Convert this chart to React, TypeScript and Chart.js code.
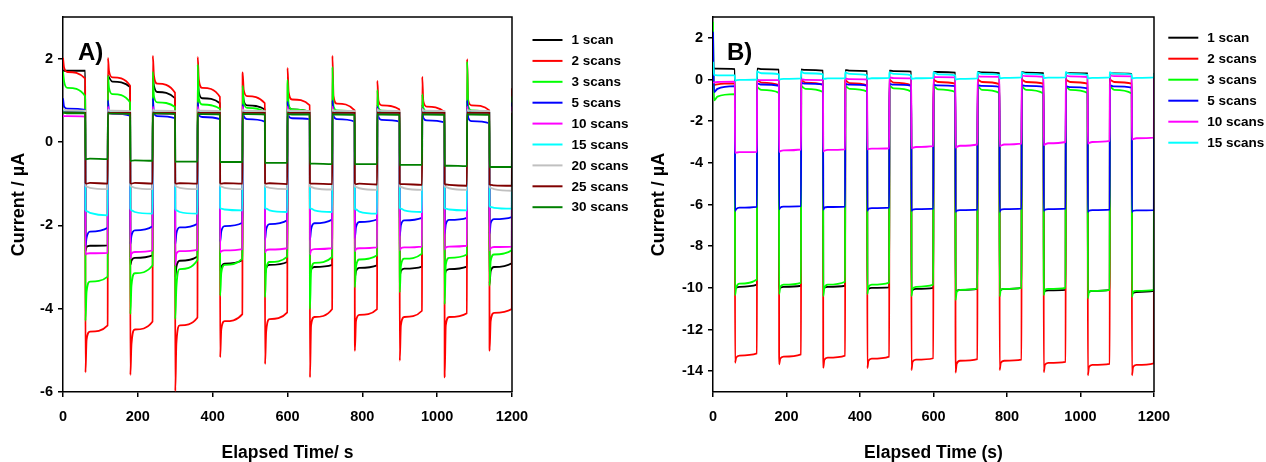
import React, { useEffect, useRef } from "react";
import { Chart, registerables } from "chart.js";

Chart.register(...registerables);

const FONT = '"Liberation Sans", Arial, sans-serif';

// ---- shared axis / sampling data ----
const X_TICKS = [0, 200, 400, 600, 800, 1000, 1200];
const A_Y_TICKS = [-6, -4, -2, 0, 2];
const B_Y_TICKS = [-14, -12, -10, -8, -6, -4, -2, 0, 2];
const SEG_OFFSETS = [0, 3, 12, 59.5]; // seconds into each 60 s light-on / light-off half period
const HALF_PERIOD = 60;
const T_END = 1200;

const COLORS = ["#000000", "#ff0000", "#00ff00", "#0000ff", "#ff00ff", "#00ffff", "#c0c0c0", "#800000", "#008000"];

// ---- Panel A ----
const A_LABELS = ["1 scan", "2 scans", "3 scans", "5 scans", "10 scans", "15 scans", "20 scans", "25 scans", "30 scans"];

const A_1SCAN = [
  [1.71, 1.71, 1.71, 1.71], [-2.62, -2.52, -2.49, -2.48],
  [1.6, 1.55, 1.45, 1.32], [-2.95, -2.85, -2.78, -2.72],
  [1.55, 1.35, 1.2, 1.05], [-3.25, -3.0, -2.85, -2.75],
  [1.45, 1.2, 1.05, 0.93], [-3.1, -3.0, -2.92, -2.84],
  [1.2, 1.0, 0.88, 0.78], [-3.16, -3.02, -2.95, -2.88],
  [1.0, 0.85, 0.78, 0.72], [-3.16, -3.06, -3.0, -2.95],
  [0.95, 0.8, 0.74, 0.7], [-3.25, -3.1, -3.02, -2.96],
  [0.9, 0.78, 0.72, 0.7], [-3.2, -3.1, -3.04, -2.99],
  [0.9, 0.78, 0.72, 0.68], [-3.2, -3.1, -3.05, -2.99],
  [0.9, 0.78, 0.72, 0.68], [-3.4, -3.1, -3.0, -2.91],
];
const A_2SCANS = [
  [2.02, 1.78, 1.68, 1.52], [-5.53, -4.75, -4.55, -4.4],
  [2.02, 1.7, 1.55, 1.35], [-5.59, -4.85, -4.5, -4.31],
  [2.07, 1.6, 1.4, 1.18], [-5.98, -4.84, -4.4, -4.21],
  [2.04, 1.5, 1.3, 1.08], [-5.17, -4.5, -4.3, -4.13],
  [1.67, 1.25, 1.1, 0.93], [-5.33, -4.55, -4.25, -4.09],
  [1.78, 1.2, 1.02, 0.88], [-5.65, -4.4, -4.2, -4.01],
  [2.07, 1.1, 0.92, 0.76], [-5.01, -4.3, -4.15, -4.01],
  [1.47, 1.0, 0.88, 0.78], [-5.25, -4.4, -4.2, -4.05],
  [1.57, 0.98, 0.85, 0.72], [-5.65, -4.4, -4.2, -4.11],
  [1.99, 1.0, 0.88, 0.76], [-5.01, -4.3, -4.1, -4.01],
];
const A_3SCANS = [
  [1.69, 1.45, 1.3, 1.1], [-4.29, -3.6, -3.35, -3.23],
  [1.59, 1.3, 1.15, 0.95], [-4.13, -3.45, -3.15, -2.96],
  [1.69, 1.1, 0.95, 0.84], [-4.25, -3.5, -3.05, -2.83],
  [1.86, 1.05, 0.9, 0.8], [-3.69, -3.15, -2.95, -2.8],
  [1.35, 0.95, 0.82, 0.72], [-3.73, -3.05, -2.88, -2.75],
  [1.49, 0.9, 0.78, 0.72], [-4.01, -3.1, -2.9, -2.76],
  [1.8, 0.85, 0.76, 0.72], [-3.49, -3.0, -2.82, -2.72],
  [1.25, 0.82, 0.75, 0.7], [-3.61, -2.98, -2.8, -2.68],
  [1.15, 0.82, 0.74, 0.7], [-3.89, -2.95, -2.78, -2.7],
  [1.93, 0.85, 0.76, 0.7], [-3.45, -2.86, -2.7, -2.6],
];
const A_5SCANS = [
  [1.05, 0.85, 0.8, 0.77], [-2.5, -2.3, -2.15, -2.06],
  [1.0, 0.72, 0.68, 0.63], [-2.45, -2.25, -2.12, -2.02],
  [1.05, 0.7, 0.62, 0.57], [-2.45, -2.2, -2.05, -1.96],
  [0.95, 0.65, 0.6, 0.55], [-2.4, -2.15, -2.02, -1.94],
  [0.9, 0.62, 0.55, 0.49], [-2.35, -2.1, -1.97, -1.88],
  [0.97, 0.62, 0.57, 0.55], [-2.35, -2.1, -1.95, -1.86],
  [1.0, 0.62, 0.55, 0.49], [-2.3, -2.05, -1.92, -1.86],
  [0.85, 0.6, 0.53, 0.49], [-2.25, -2.0, -1.88, -1.82],
  [0.81, 0.58, 0.52, 0.47], [-2.2, -1.98, -1.87, -1.82],
  [1.0, 0.58, 0.5, 0.45], [-2.2, -1.95, -1.85, -1.8],
];
const A_10SCANS = [
  [0.62, 0.62, 0.62, 0.61], [-2.7, -2.68, -2.67, -2.66],
  [0.85, 0.7, 0.68, 0.67], [-2.8, -2.68, -2.64, -2.6],
  [0.85, 0.7, 0.68, 0.67], [-2.96, -2.68, -2.62, -2.59],
  [0.85, 0.7, 0.68, 0.67], [-2.65, -2.62, -2.6, -2.57],
  [0.85, 0.7, 0.68, 0.67], [-2.65, -2.6, -2.58, -2.55],
  [0.85, 0.7, 0.68, 0.67], [-2.7, -2.6, -2.57, -2.55],
  [0.85, 0.7, 0.68, 0.67], [-2.62, -2.57, -2.55, -2.53],
  [0.8, 0.7, 0.68, 0.67], [-2.6, -2.55, -2.53, -2.51],
  [0.8, 0.7, 0.68, 0.67], [-2.58, -2.53, -2.51, -2.49],
  [0.85, 0.7, 0.68, 0.67], [-2.6, -2.55, -2.52, -2.51],
];
const A_15SCANS = [
  [0.74, 0.73, 0.72, 0.72], [-1.62, -1.66, -1.7, -1.76],
  [0.74, 0.72, 0.71, 0.7], [-1.6, -1.64, -1.68, -1.72],
  [0.74, 0.72, 0.71, 0.7], [-1.6, -1.64, -1.68, -1.72],
  [0.74, 0.72, 0.71, 0.7], [-1.58, -1.6, -1.62, -1.64],
  [0.74, 0.72, 0.71, 0.7], [-1.58, -1.6, -1.64, -1.68],
  [0.74, 0.72, 0.71, 0.7], [-1.58, -1.6, -1.64, -1.68],
  [0.74, 0.72, 0.71, 0.7], [-1.6, -1.62, -1.67, -1.72],
  [0.74, 0.72, 0.71, 0.7], [-1.58, -1.6, -1.64, -1.68],
  [0.74, 0.72, 0.71, 0.7], [-1.58, -1.6, -1.62, -1.64],
  [0.74, 0.72, 0.71, 0.7], [-1.54, -1.56, -1.58, -1.6],
];
const A_20SCANS = [
  [0.8, 0.78, 0.76, 0.75], [-1.05, -1.07, -1.1, -1.13],
  [0.78, 0.76, 0.75, 0.74], [-1.05, -1.07, -1.1, -1.13],
  [0.78, 0.76, 0.75, 0.74], [-1.05, -1.07, -1.1, -1.13],
  [0.78, 0.76, 0.75, 0.74], [-1.05, -1.07, -1.1, -1.13],
  [0.78, 0.76, 0.75, 0.74], [-1.05, -1.08, -1.1, -1.13],
  [0.78, 0.76, 0.75, 0.74], [-1.06, -1.08, -1.11, -1.14],
  [0.78, 0.76, 0.75, 0.74], [-1.06, -1.08, -1.11, -1.15],
  [0.78, 0.76, 0.75, 0.74], [-1.06, -1.08, -1.11, -1.15],
  [0.78, 0.76, 0.75, 0.74], [-1.06, -1.08, -1.11, -1.15],
  [0.78, 0.76, 0.75, 0.74], [-1.08, -1.1, -1.13, -1.17],
];
const A_25SCANS = [
  [0.72, 0.71, 0.71, 0.7], [-0.98, -1.0, -0.98, -1.0],
  [0.71, 0.7, 0.7, 0.7], [-0.98, -1.0, -0.98, -1.0],
  [0.71, 0.7, 0.7, 0.7], [-0.98, -1.0, -0.99, -1.0],
  [0.71, 0.7, 0.7, 0.7], [-0.98, -1.0, -0.99, -1.0],
  [0.71, 0.7, 0.7, 0.7], [-0.99, -1.0, -0.99, -1.01],
  [0.71, 0.7, 0.7, 0.7], [-0.99, -1.0, -1.0, -1.01],
  [0.71, 0.7, 0.7, 0.7], [-0.99, -1.01, -1.0, -1.02],
  [0.71, 0.7, 0.7, 0.7], [-1.0, -1.01, -1.01, -1.03],
  [0.71, 0.7, 0.7, 0.7], [-1.0, -1.02, -1.03, -1.05],
  [0.71, 0.7, 0.7, 0.7], [-1.02, -1.03, -1.04, -1.05],
];
const A_30SCANS = [
  [0.7, 0.7, 0.69, 0.69], [-0.42, -0.41, -0.4, -0.41],
  [0.69, 0.68, 0.68, 0.67], [-0.46, -0.45, -0.44, -0.45],
  [0.69, 0.68, 0.68, 0.67], [-0.48, -0.47, -0.47, -0.47],
  [0.68, 0.67, 0.67, 0.66], [-0.49, -0.48, -0.48, -0.48],
  [0.68, 0.67, 0.67, 0.66], [-0.51, -0.5, -0.5, -0.5],
  [0.68, 0.67, 0.66, 0.66], [-0.53, -0.52, -0.52, -0.53],
  [0.67, 0.66, 0.66, 0.65], [-0.54, -0.53, -0.53, -0.53],
  [0.67, 0.66, 0.66, 0.65], [-0.56, -0.55, -0.55, -0.55],
  [0.67, 0.66, 0.66, 0.65], [-0.58, -0.57, -0.57, -0.58],
  [0.67, 0.66, 0.66, 0.65], [-0.6, -0.6, -0.6, -0.6],
];
const A_SERIES = [A_1SCAN, A_2SCANS, A_3SCANS, A_5SCANS, A_10SCANS, A_15SCANS, A_20SCANS, A_25SCANS, A_30SCANS];
const A_END_VALUES = [0.7, 1.29, 1.09, 0.95, 0.85, 0.72, 0.74, 0.7, 0.66];

// ---- Panel B ----
const B_LABELS = ["1 scan", "2 scans", "3 scans", "5 scans", "10 scans", "15 scans"];

const B_1SCAN = [
  [0.53, 0.53, 0.52, 0.5], [-10.05, -10.0, -9.95, -9.85],
  [0.52, 0.52, 0.5, 0.47], [-10.05, -10.0, -9.95, -9.9],
  [0.48, 0.47, 0.46, 0.43], [-10.1, -10.0, -9.95, -9.9],
  [0.45, 0.45, 0.43, 0.4], [-10.1, -10.05, -10.0, -9.98],
  [0.42, 0.42, 0.4, 0.38], [-10.15, -10.1, -10.05, -10.0],
  [0.37, 0.37, 0.36, 0.33], [-10.2, -10.15, -10.1, -10.05],
  [0.37, 0.36, 0.34, 0.3], [-10.15, -10.1, -10.05, -10.0],
  [0.36, 0.35, 0.33, 0.3], [-10.2, -10.15, -10.12, -10.1],
  [0.33, 0.32, 0.31, 0.29], [-10.25, -10.2, -10.15, -10.1],
  [0.31, 0.3, 0.29, 0.27], [-10.3, -10.25, -10.2, -10.15],
];
const B_2SCANS = [
  [-0.3, -0.27, -0.23, -0.19], [-13.6, -13.35, -13.25, -13.15],
  [0.0, -0.05, -0.15, -0.27], [-13.67, -13.4, -13.3, -13.19],
  [0.0, -0.05, -0.15, -0.25], [-13.84, -13.45, -13.35, -13.25],
  [-0.02, -0.07, -0.17, -0.28], [-13.85, -13.5, -13.4, -13.3],
  [0.0, -0.05, -0.15, -0.28], [-13.95, -13.55, -13.45, -13.38],
  [0.0, -0.04, -0.12, -0.2], [-14.07, -13.65, -13.5, -13.42],
  [0.02, -0.03, -0.12, -0.22], [-13.95, -13.6, -13.5, -13.45],
  [0.02, -0.03, -0.12, -0.2], [-14.05, -13.7, -13.6, -13.55],
  [0.0, -0.04, -0.12, -0.2], [-14.2, -13.8, -13.7, -13.65],
  [0.0, -0.04, -0.12, -0.2], [-14.2, -13.8, -13.7, -13.62],
];
const B_3SCANS = [
  [2.77, -1.0, -0.82, -0.7], [-10.35, -10.0, -9.8, -9.6],
  [-0.35, -0.4, -0.5, -0.64], [-10.3, -9.95, -9.85, -9.76],
  [-0.3, -0.35, -0.45, -0.6], [-10.4, -10.0, -9.85, -9.71],
  [-0.3, -0.35, -0.45, -0.58], [-10.3, -9.95, -9.85, -9.75],
  [-0.28, -0.33, -0.43, -0.58], [-10.4, -10.05, -9.95, -9.85],
  [-0.3, -0.35, -0.47, -0.6], [-10.59, -10.2, -10.1, -10.03],
  [-0.3, -0.36, -0.5, -0.65], [-10.4, -10.1, -10.05, -10.0],
  [-0.3, -0.37, -0.5, -0.67], [-10.35, -10.1, -10.05, -10.0],
  [-0.3, -0.37, -0.5, -0.65], [-10.5, -10.2, -10.15, -10.1],
  [-0.3, -0.37, -0.5, -0.67], [-10.45, -10.2, -10.15, -10.1],
];
const B_5SCANS = [
  [2.29, -0.6, -0.45, -0.32], [-6.31, -6.22, -6.15, -6.11],
  [-0.19, -0.2, -0.24, -0.31], [-6.23, -6.15, -6.1, -6.08],
  [-0.15, -0.17, -0.2, -0.25], [-6.25, -6.15, -6.12, -6.1],
  [-0.2, -0.22, -0.25, -0.3], [-6.3, -6.2, -6.17, -6.15],
  [-0.2, -0.22, -0.25, -0.3], [-6.3, -6.25, -6.22, -6.2],
  [-0.25, -0.26, -0.28, -0.32], [-6.35, -6.3, -6.27, -6.25],
  [-0.27, -0.28, -0.31, -0.35], [-6.35, -6.25, -6.22, -6.2],
  [-0.27, -0.28, -0.31, -0.35], [-6.3, -6.25, -6.22, -6.2],
  [-0.32, -0.33, -0.37, -0.43], [-6.35, -6.3, -6.27, -6.25],
  [-0.27, -0.29, -0.33, -0.39], [-6.36, -6.3, -6.28, -6.27],
];
const B_10SCANS = [
  [-0.15, -0.14, -0.12, -0.1], [-3.52, -3.51, -3.49, -3.47],
  [-0.03, -0.03, -0.03, -0.03], [-3.47, -3.44, -3.4, -3.36],
  [0.0, 0.0, -0.02, -0.03], [-3.45, -3.42, -3.38, -3.35],
  [0.05, 0.04, 0.02, 0.0], [-3.35, -3.34, -3.32, -3.3],
  [0.1, 0.09, 0.07, 0.05], [-3.3, -3.28, -3.24, -3.2],
  [0.13, 0.12, 0.11, 0.1], [-3.27, -3.24, -3.18, -3.12],
  [0.16, 0.15, 0.14, 0.13], [-3.2, -3.18, -3.12, -3.08],
  [0.2, 0.18, 0.16, 0.13], [-3.15, -3.12, -3.06, -3.0],
  [0.2, 0.18, 0.15, 0.12], [-3.08, -3.05, -3.0, -2.95],
  [0.2, 0.18, 0.16, 0.15], [-2.88, -2.86, -2.82, -2.79],
];
const B_15SCANS = [
  [0.85, 0.22, 0.2, 0.2], [-0.05, -0.04, -0.02, 0.0],
  [0.4, 0.36, 0.3, 0.25], [0.0, 0.01, 0.03, 0.05],
  [0.4, 0.35, 0.3, 0.25], [0.02, 0.03, 0.05, 0.07],
  [0.35, 0.32, 0.27, 0.2], [0.03, 0.04, 0.06, 0.08],
  [0.35, 0.32, 0.27, 0.2], [0.03, 0.04, 0.06, 0.08],
  [0.35, 0.32, 0.25, 0.2], [0.0, 0.01, 0.03, 0.05],
  [0.35, 0.32, 0.27, 0.22], [0.05, 0.06, 0.08, 0.1],
  [0.35, 0.32, 0.27, 0.22], [0.06, 0.07, 0.09, 0.1],
  [0.35, 0.32, 0.27, 0.22], [0.05, 0.06, 0.08, 0.1],
  [0.35, 0.32, 0.28, 0.25], [0.05, 0.06, 0.08, 0.1],
];
const B_SERIES = [B_1SCAN, B_2SCANS, B_3SCANS, B_5SCANS, B_10SCANS, B_15SCANS];
const B_END_VALUES = [0.3, 0.0, -0.3, -0.25, 0.2, 0.3];

// ---- helpers ----
function toPoints(segments: number[][], endValue: number) {
  const pts: { x: number; y: number }[] = [];
  segments.forEach((seg, i) => {
    seg.forEach((v, j) => pts.push({ x: i * HALF_PERIOD + SEG_OFFSETS[j], y: v }));
  });
  pts.push({ x: T_END, y: endValue });
  return pts;
}

const decorPlugin = {
  id: "decor",
  afterDraw(chart: any, _args: any, opts: any) {
    const { ctx, chartArea } = chart;
    ctx.save();
    ctx.strokeStyle = "#000";
    ctx.lineWidth = 1.5;
    ctx.beginPath();
    ctx.moveTo(chartArea.left, chartArea.top);
    ctx.lineTo(chartArea.right, chartArea.top);
    ctx.lineTo(chartArea.right, chartArea.bottom);
    ctx.stroke();

    ctx.fillStyle = "#000";
    ctx.font = `bold 24px ${FONT}`;
    ctx.textBaseline = "alphabetic";
    ctx.textAlign = "left";
    ctx.fillText(opts.panel, opts.panelX, opts.panelY);

    ctx.font = `bold 13.5px ${FONT}`;
    ctx.textBaseline = "middle";
    chart.data.datasets.forEach((ds: any, i: number) => {
      const y = opts.legendY + i * opts.legendDy;
      ctx.strokeStyle = ds.borderColor;
      ctx.lineWidth = 2;
      ctx.beginPath();
      ctx.moveTo(opts.legendX, y);
      ctx.lineTo(opts.legendX + 30, y);
      ctx.stroke();
      ctx.fillStyle = "#000";
      ctx.fillText(ds.label, opts.legendX + 39, y + 0.5);
    });
    ctx.restore();
  },
};

function makeConfig(p: any) {
  const n = p.series.length;
  const datasets = p.series.map((segs: number[][], i: number) => ({
    label: p.labels[i],
    data: toPoints(segs, p.ends[i]),
    borderColor: COLORS[i],
    backgroundColor: COLORS[i],
    borderWidth: 1.8,
    pointRadius: 0,
    fill: false,
    cubicInterpolationMode: "monotone",
    order: n - i,
  }));
  const tickFont = { family: FONT, size: 14.5, weight: "bold" };
  const titleFont = { family: FONT, size: 17.5, weight: "bold" };
  return {
    type: "line",
    data: { datasets },
    plugins: [decorPlugin],
    options: {
      responsive: false,
      animation: false,
      events: [],
      layout: { padding: { top: 17, right: p.padRight, bottom: 0, left: 0 } },
      plugins: {
        legend: { display: false },
        tooltip: { enabled: false },
        decor: {
          panel: p.panel,
          panelX: p.panelX,
          panelY: 60,
          legendX: p.legendX,
          legendY: p.legendY,
          legendDy: p.legendDy,
        },
      },
      scales: {
        x: {
          type: "linear",
          min: 0,
          max: T_END,
          afterBuildTicks: (s: any) => {
            s.ticks = X_TICKS.map((v) => ({ value: v }));
          },
          afterFit: (s: any) => {
            s.height = 70;
          },
          ticks: {
            font: tickFont,
            color: "#000",
            padding: 11,
            maxRotation: 0,
            autoSkip: false,
            callback: (v: any) => String(v),
          },
          grid: { display: true, drawOnChartArea: false, drawTicks: true, tickLength: 5, color: "#000", lineWidth: 1.5 },
          border: { display: true, color: "#000", width: 1.5 },
          title: { display: true, text: p.xTitle, font: titleFont, color: "#000", padding: { top: 0, bottom: -1.5 } },
        },
        y: {
          type: "linear",
          min: p.yMin,
          max: p.yMax,
          afterBuildTicks: (s: any) => {
            s.ticks = p.yTicks.map((v: number) => ({ value: v }));
          },
          afterFit: (s: any) => {
            s.width = p.yWidth;
          },
          ticks: { font: tickFont, color: "#000", padding: 5, autoSkip: false, callback: (v: any) => String(v) },
          grid: { display: true, drawOnChartArea: false, drawTicks: true, tickLength: 5, color: "#000", lineWidth: 1.5 },
          border: { display: true, color: "#000", width: 1.5 },
          title: {
            display: true,
            text: "Current / µA",
            font: { family: FONT, size: 18, weight: "bold" },
            color: "#000",
            padding: { top: 8, bottom: 0 },
          },
        },
      },
    },
  };
}

function Panel({ left, width, params }: { left: number; width: number; params: any }) {
  const ref = useRef<HTMLCanvasElement>(null);
  useEffect(() => {
    const chart = new Chart(ref.current as HTMLCanvasElement, makeConfig(params) as any);
    return () => chart.destroy();
  }, []);
  return (
    <div style={{ position: "absolute", left, top: 0, width, height: 462 }}>
      <canvas ref={ref} width={width} height={462} style={{ display: "block" }} />
    </div>
  );
}

const PANEL_A = {
  series: A_SERIES,
  labels: A_LABELS,
  ends: A_END_VALUES,
  yMin: -6,
  yMax: 3,
  yTicks: A_Y_TICKS,
  yWidth: 63,
  padRight: 128,
  xTitle: "Elapsed Time/ s",
  panel: "A)",
  panelX: 78,
  legendX: 532.5,
  legendY: 40,
  legendDy: 20.9,
};

const PANEL_B = {
  series: B_SERIES,
  labels: B_LABELS,
  ends: B_END_VALUES,
  yMin: -15,
  yMax: 3,
  yTicks: B_Y_TICKS,
  yWidth: 73,
  padRight: 112,
  xTitle: "Elapsed Time (s)",
  panel: "B)",
  panelX: 87,
  legendX: 528.3,
  legendY: 37.7,
  legendDy: 21,
};

export default function App() {
  return (
    <div style={{ position: "fixed", left: 0, top: 0, width: 1266, height: 462, background: "#fff", overflow: "hidden" }}>
      <Panel left={0} width={640} params={PANEL_A} />
      <Panel left={640} width={626} params={PANEL_B} />
    </div>
  );
}
